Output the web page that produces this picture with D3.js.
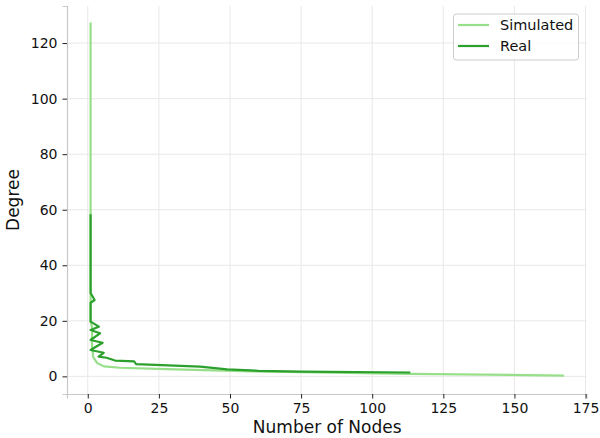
<!DOCTYPE html>
<html>
<head>
<meta charset="utf-8">
<script src="https://cdn.jsdelivr.net/npm/d3@7"></script>
<style>
  body { margin: 0; background: #fff; }
  svg { display: block; font-family: "DejaVu Sans", sans-serif; }
</style>
</head>
<body>
<svg id="chart" width="600" height="438"></svg>
<script>
// Data (count of nodes, degree), ordered by descending degree
const seriesNames = ["Simulated", "Real"];
const seriesColors = ["#98df8a", "#2ca02c"];
const simCount  = [1, 1, 1.6, 1.4, 1.6, 1.9, 3.3, 5.7, 11.3, 27.7, 57, 113, 167.4];
const simDegree = [127.4, 20, 17, 13, 10, 7, 4.8, 3.6, 3.1, 2.6, 1.8, 0.9, 0.3];
const realCount  = [1, 1, 2.4, 1, 1, 3.9, 1, 4.3, 1, 5.2, 1, 5.6, 3.8, 6.6, 9.6, 16.3, 17, 39.5, 49, 60, 75, 113.4];
const realDegree = [58.4, 30, 27.5, 26.5, 19.7, 17.9, 16.7, 15.5, 13.1, 12.1, 9.5, 8.5, 7.1, 6.7, 5.7, 5.4, 4.4, 3.5, 2.5, 2.0, 1.7, 1.4];
const xTicks = [0, 25, 50, 75, 100, 125, 150, 175];
const yTicks = [0, 20, 40, 60, 80, 100, 120];

const svg = d3.select("#chart");
const pLeft = 67, pRight = 586.4, pTop = 6, pBottom = 394;
const x = d3.scaleLinear().domain([-7.3, 175.3]).range([pLeft, pRight]);
const y = d3.scaleLinear().domain([-6.35, 133.35]).range([pBottom, pTop]);

// grid
const grid = svg.append("g");
grid.selectAll(".gx").data(xTicks).join("line")
  .attr("x1", d => x(d)).attr("x2", d => x(d))
  .attr("y1", pTop).attr("y2", pBottom)
  .attr("stroke", "#e8e8e8").attr("stroke-width", 1);
grid.selectAll(".gy").data(yTicks).join("line")
  .attr("x1", pLeft).attr("x2", pRight)
  .attr("y1", d => y(d)).attr("y2", d => y(d))
  .attr("stroke", "#e8e8e8").attr("stroke-width", 1);

// axes
const xAxis = d3.axisBottom(x).tickValues(xTicks).tickSize(4.5).tickPadding(5);
const yAxis = d3.axisLeft(y).tickValues(yTicks).tickSize(4.5).tickPadding(5);
const gx = svg.append("g").attr("transform", `translate(0,${pBottom})`).call(xAxis);
const gy = svg.append("g").attr("transform", `translate(${pLeft},0)`).call(yAxis);
[gx, gy].forEach(g => {
  g.select(".domain").attr("stroke", "#c8c8c8").attr("stroke-width", 1.2);
  g.selectAll(".tick line").attr("stroke", "#222").attr("stroke-width", 1);
  g.selectAll(".tick text").attr("fill", "#111")
    .style("font-family", "'DejaVu Sans', sans-serif").style("font-size", "14px");
});

// lines
const line = d3.line().x(d => x(d[0])).y(d => y(d[1]));
const simData = simCount.map((c, i) => [c, simDegree[i]]);
const realData = realCount.map((c, i) => [c, realDegree[i]]);
[simData, realData].forEach((data, i) => {
  svg.append("path").datum(data)
    .attr("d", line)
    .attr("fill", "none")
    .attr("stroke", seriesColors[i])
    .attr("stroke-width", 2.2)
    .attr("stroke-linejoin", "round");
});

// axis labels
svg.append("text").attr("x", (pLeft + pRight) / 2 + 0.5).attr("y", 438 - 5)
  .attr("text-anchor", "middle").style("font-size", "17px").attr("fill", "#111")
  .text("Number of Nodes");
svg.append("text").attr("transform", `translate(19,${(pTop + pBottom) / 2}) rotate(-90)`)
  .attr("text-anchor", "middle").style("font-size", "17px").attr("fill", "#111")
  .text("Degree");

// legend
const lg = svg.append("g");
lg.append("rect").attr("x", 453.5).attr("y", 14).attr("width", 125).attr("height", 46)
  .attr("rx", 3).attr("fill", "#fff").attr("fill-opacity", 0.85)
  .attr("stroke", "#cccccc").attr("stroke-width", 1);
seriesNames.forEach((name, i) => {
  const yy = 25 + i * 21;
  lg.append("line").attr("x1", 458).attr("x2", 489).attr("y1", yy).attr("y2", yy)
    .attr("stroke", seriesColors[i]).attr("stroke-width", 2.2);
  lg.append("text").attr("x", 500).attr("y", yy + 5)
    .style("font-size", "14.5px").attr("fill", "#111").text(name);
});
</script>
</body>
</html>
